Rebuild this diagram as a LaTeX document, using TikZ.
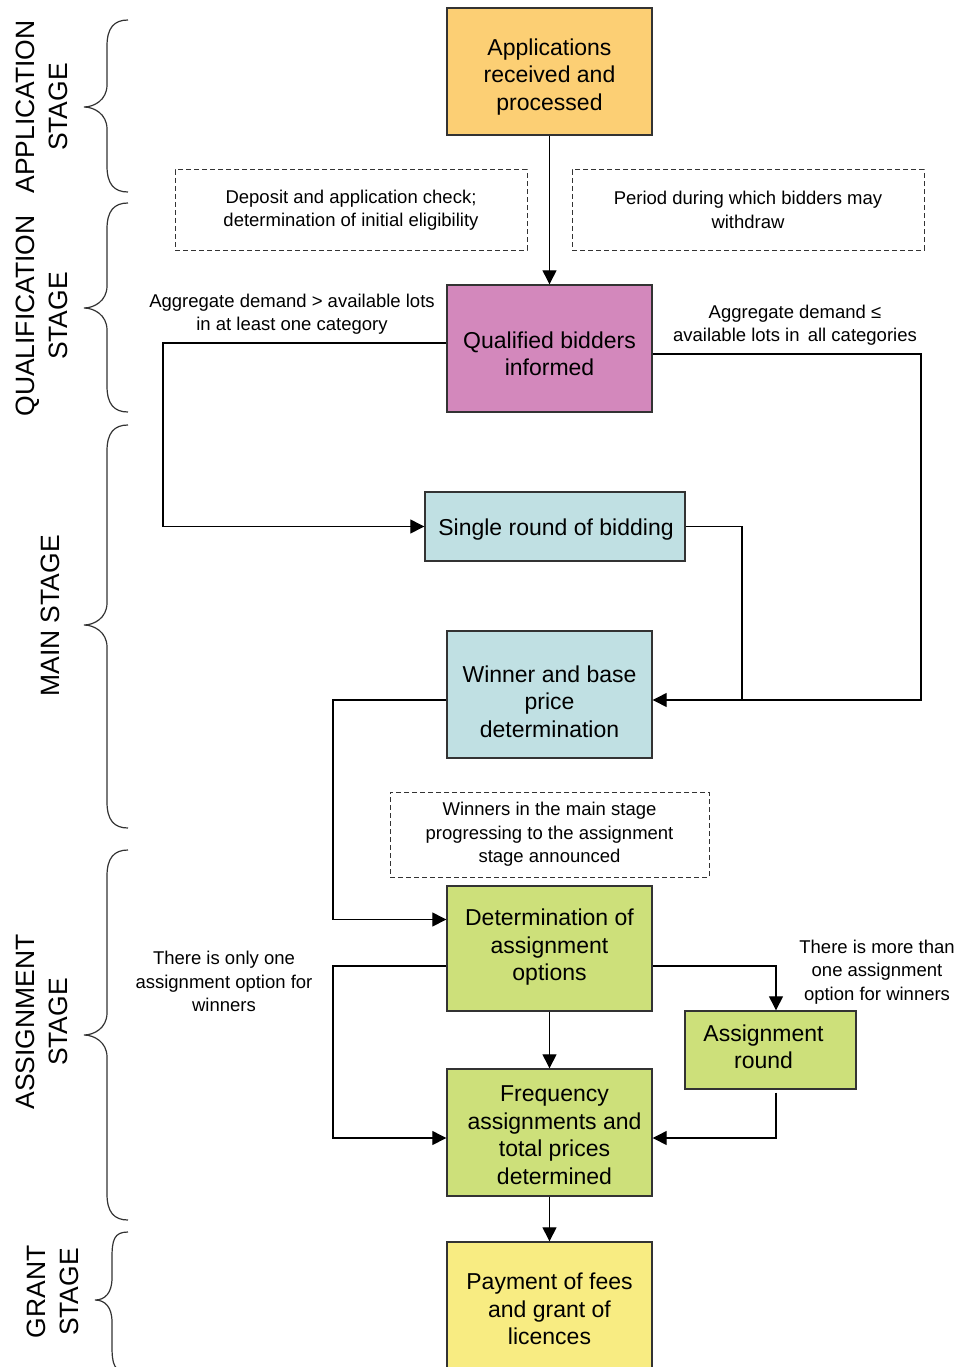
\documentclass[tikz,border=0pt]{standalone}
\usepackage{fontspec}
\setmainfont{Liberation Sans}
\usetikzlibrary{arrows.meta,calc}

\definecolor{appfill}{HTML}{FCCF74}
\definecolor{qualfill}{HTML}{D388BC}
\definecolor{mainfill}{HTML}{C0E0E3}
\definecolor{assfill}{HTML}{CDE07A}
\definecolor{grantfill}{HTML}{F8EC82}
\definecolor{edge}{HTML}{333333}

% stage brace: top, tip, bottom, vertical x, tip x
\newcommand\stagebrace[5]{%
  \draw[brace] (128,#1) .. controls (114,#1) and (#4,#1+8) .. (#4,#1+26)
    -- (#4,#2-22) .. controls (#4,#2-7) and (#5+10,#2) .. (#5,#2)
    .. controls (#5+10,#2) and (#4,#2+7) .. (#4,#2+22)
    -- (#4,#3-26) .. controls (#4,#3-8) and (114,#3) .. (128,#3);}

\begin{document}
\begin{tikzpicture}[x=1pt,y=-1pt,
  box/.style={draw=edge,line width=1.4pt,inner sep=0pt},
  boxtext/.style={align=center,inner sep=0pt,
    font=\fontsize{23}{27.5}\selectfont},
  % box caption, placed at the box centre with an offset (right, down)
  cap/.style n args={3}{label={[boxtext,xshift=#1pt,yshift=-#2pt]center:{#3}}},
  note/.style={draw=edge,line width=1pt,dash pattern=on 5pt off 3pt,
    inner sep=0pt,align=center,font=\fontsize{18.5}{23.5}\selectfont},
  lbl/.style={align=center,inner sep=0pt,font=\fontsize{18.5}{23.5}\selectfont},
  stage/.style={align=center,inner sep=0pt,rotate=90,
    font=\fontsize{26.5}{33}\selectfont},
  arr/.style={draw=black,line width=1.3pt,-{Triangle[length=14pt,width=14pt]}},
  link/.style={draw=black,line width=1.3pt},
  brace/.style={draw=edge,line width=1.2pt}]

\useasboundingbox (0,0) rectangle (961,1367);

% process boxes
\node[box,fill=appfill,minimum width=205pt,minimum height=127pt,
  cap={0}{5.5}{Applications\\received and\\processed}] (app) at (549.5,71.5) {};
\node[box,fill=qualfill,minimum width=205pt,minimum height=127pt,
  cap={0}{5.5}{Qualified bidders\\informed}] (qual) at (549.5,348.5) {};
\node[box,fill=mainfill,minimum width=260pt,minimum height=69pt,
  cap={1}{3}{Single round of bidding}] (single) at (555,526.5) {};
\node[box,fill=mainfill,minimum width=205pt,minimum height=127pt,
  cap={0}{7}{Winner and base\\price\\determination}] (winner) at (549.5,694.5) {};
\node[box,fill=assfill,minimum width=205pt,minimum height=125pt,
  cap={0}{-1}{Determination of\\assignment\\options}] (determ) at (549.5,948.5) {};
\node[box,fill=assfill,minimum width=171pt,minimum height=78pt,
  cap={-7}{-3}{Assignment\\round}] (around) at (770.5,1050) {};
\node[box,fill=assfill,minimum width=205pt,minimum height=127pt,
  cap={5}{2.5}{Frequency\\assignments and\\total prices\\determined}] (freq) at (549.5,1132.5) {};
\node[box,fill=grantfill,minimum width=205pt,minimum height=132pt,
  cap={0}{1}{Payment of fees\\and grant of\\licences}] (payment) at (549.5,1308) {};

% dashed notes
\node[note,minimum width=352pt,minimum height=80pt] (n1) at (351,210)
  {Deposit and application check;\\determination of initial eligibility};
\node[note,minimum width=352pt,minimum height=80pt] (n2) at (748,210)
  {Period during which bidders may\\withdraw};
\node[note,minimum width=319pt,minimum height=85pt] (n3) at (549.5,834.5)
  {Winners in the main stage\\progressing to the assignment\\stage announced};

% condition labels
\node[lbl] (c1) at (292,314) {Aggregate demand > available lots\\in at least one category};
\node[lbl] (c2) at (795,325) {Aggregate demand ≤\\available lots in\, all categories};
\node[lbl] (c3) at (224,981.5) {There is only one\\assignment option for\\winners};
\node[lbl] (c4) at (877,972) {There is more than\\one assignment\\option for winners};

% stage labels and braces
\node[stage] (sapp) at (41.5,107) {APPLICATION\\STAGE};
\node[stage] (squal) at (41.5,316) {QUALIFICATION\\STAGE};
\node[stage] (smain) at (50,616) {MAIN STAGE};
\node[stage] (sass) at (41.5,1022) {ASSIGNMENT\\STAGE};
\node[stage] (sgrant) at (53,1292) {GRANT\\STAGE};

\stagebrace{20}{107}{192}{107}{84}
\stagebrace{203}{308}{412}{107}{84}
\stagebrace{425}{625}{828}{107}{84}
\stagebrace{850}{1035}{1220}{107}{84}
\stagebrace{1232}{1300}{1372}{112}{95}

% routing columns
\coordinate (colL) at (163,0);
\coordinate (colA) at (333,0);
\coordinate (colM) at (742,0);
\coordinate (colR) at (921,0);
\coordinate (w2) at ([yshift=-5.5pt]winner.east);
\coordinate (d1) at ([yshift=29pt]determ.west);
\coordinate (f1) at ([yshift=-5.5pt]freq.west);

% connectors
\draw[arr] (app) -- (qual);
\draw[arr] ([yshift=5.5pt]qual.west) -| (colL |- single.west) -- (single.west);
\draw[arr] ([yshift=-5.5pt]qual.east) -| (colR |- w2) -- (w2);
\draw[link] (single.east) -| (colM |- w2);
\draw[arr] ([yshift=-5.5pt]winner.west) -| (colA |- d1) -- (d1);
\draw[arr] ([yshift=-17.5pt]determ.west) -| (colA |- f1) -- (f1);
\draw[arr] ([yshift=-17.5pt]determ.east) -| ([xshift=5.5pt]around.north);
\draw[arr] ([xshift=5.5pt,yshift=-3pt]around.south) |- ([yshift=-5.5pt]freq.east);
\draw[arr] (determ) -- (freq);
\draw[arr] (freq) -- (payment);

\end{tikzpicture}
\end{document}
